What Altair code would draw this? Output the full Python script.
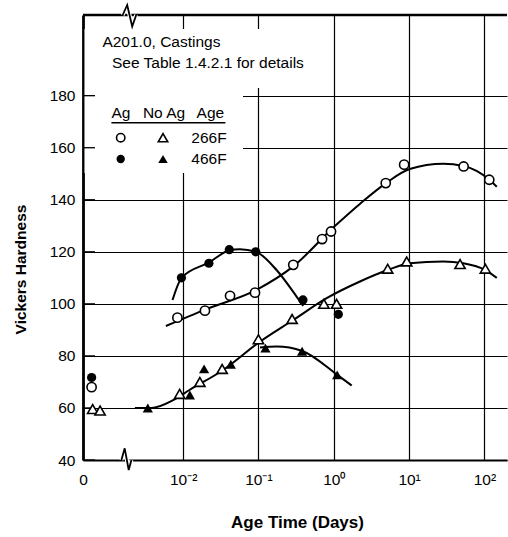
import altair as alt
import pandas as pd

FONT = "Liberation Sans, Arial, sans-serif"

# ---------------- data ----------------
# Age time in days; points at time 0 are drawn just right of the axis break
ag266_days = [0.00061, 0.0084, 0.0195, 0.042, 0.090, 0.29, 0.70, 0.92, 4.9, 8.6, 53, 116]
ag266_hv = [68, 94.7, 97.4, 103.1, 104.3, 115, 124.9, 127.8, 146.4, 153.5, 152.8, 147.7]

ag466_days = [0.00061, 0.0095, 0.022, 0.041, 0.092, 0.39, 1.15]
ag466_hv = [71.7, 110, 115.6, 120.8, 120, 101.5, 96]

noag266_days = [0.00063, 0.00079, 0.0090, 0.0167, 0.033, 0.10, 0.28, 0.74, 1.09, 5.2, 9.3, 47.5, 103]
noag266_hv = [59.6, 59.0, 65.4, 70, 75, 86.4, 94.2, 100, 100, 113.5, 116.3, 115.3, 113.5]

noag466_days = [0.0034, 0.0123, 0.019, 0.043, 0.124, 0.38, 1.11]
noag466_hv = [60, 65, 75, 76.8, 83, 81.8, 72.7]

# hand-drawn trend curves
ag266_fit_days = [0.0059, 0.0204, 0.0944, 0.29, 1.0, 2.24, 4.94, 10.2, 28.5, 52.5, 116.4, 146]
ag266_fit_hv = [91.5, 98, 105.4, 114.4, 129.5, 138.5, 146.4, 151.8, 153.8, 153, 147.7, 145]

ag466_fit_days = [0.00724, 0.00955, 0.0221, 0.0408, 0.0568, 0.0944, 0.174, 0.321, 0.394]
ag466_fit_hv = [101.5, 110, 115.9, 120.5, 121, 119.9, 113, 102.8, 99.2]

noag266_fit_days = [0.00229, 0.0038, 0.00736, 0.0123, 0.034, 0.105, 0.29, 0.805, 2.23, 5.2, 10.2, 28.5, 52.5, 103, 146]
noag266_fit_hv = [60, 60, 63, 67, 74.6, 85.5, 93.8, 102.2, 108.6, 113, 115.6, 116.3, 115.6, 113, 110]

noag466_fit_days = [0.105, 0.174, 0.382, 1.114, 1.73]
noag466_fit_hv = [83.2, 83.6, 81.9, 72.7, 68.6]

# axes
x_ticks = [10 ** -3.329, 0.01, 0.1, 1, 10, 100]
y_ticks = [40, 60, 80, 100, 120, 140, 160, 180]
x_domain = [10 ** -3.329, 10 ** 2.30]
y_domain = [40, 211]

W, H = 424, 445

xs = alt.Scale(type="log", domain=x_domain, nice=False)
ys = alt.Scale(domain=y_domain, nice=False, zero=False)

label_expr = ("datum.value < 0.001 ? '0' : datum.value < 0.05 ? '10\u207b\u00b2' : "
              "datum.value < 0.5 ? '10\u207b\u00b9' : datum.value < 5 ? '10\u2070' : "
              "datum.value < 50 ? '10\u00b9' : '10\u00b2'")

x_axis = alt.Axis(values=x_ticks, labelExpr=label_expr, grid=True, ticks=False, labelFlush=False,
                  title="Age Time (Days)", titleX=214, titleY=62, titleBaseline="middle",
                  titleAlign="center", labelPadding=12, titleFontSize=17)
y_axis = alt.Axis(values=y_ticks, grid=True, ticks=False, title="Vickers Hardness",
                  titleX=-63, titleY=254, titleAngle=270, titleBaseline="middle",
                  titleAlign="center", labelPadding=8, titleFontSize=15.5)


def df(days, hv):
    return pd.DataFrame({"days": days, "hv": hv})


def curve(days, hv):
    return alt.Chart(df(days, hv)).mark_line(color="black", strokeWidth=2, interpolate="monotone").encode(
        x=alt.X("days:Q", scale=xs, axis=x_axis),
        y=alt.Y("hv:Q", scale=ys, axis=y_axis),
    )


def pts(days, hv, shape, filled, size):
    if filled:
        m = alt.Chart(df(days, hv)).mark_point(shape=shape, filled=True, color="black", size=size, opacity=1)
    else:
        m = alt.Chart(df(days, hv)).mark_point(shape=shape, filled=True, fill="white", stroke="black",
                                               strokeWidth=1.6, size=size, opacity=1)
    return m.encode(x=alt.X("days:Q", scale=xs), y=alt.Y("hv:Q", scale=ys))


# white masks behind the annotation text (they hide the grid, as in the original)
masks = alt.Chart(pd.DataFrame({"x": [1.5, 1.5], "x2": [222, 160], "y": [14, 73], "y2": [73, 158]})).mark_rect(
    fill="white").encode(x=alt.X("x:Q", scale=None), x2="x2", y=alt.Y("y:Q", scale=None), y2="y2")

# inner ticks on the left axis
yticks_rule = alt.Chart(pd.DataFrame({"hv": y_ticks})).mark_rule(color="black", strokeWidth=1.3).encode(
    y=alt.Y("hv:Q", scale=ys), x=alt.value(0), x2=alt.value(12))

# frame top
top_rule = alt.Chart(pd.DataFrame({"a": [0]})).mark_rule(color="black", strokeWidth=2.5).encode(
    x=alt.value(0), x2=alt.value(W), y=alt.value(0))

# axis-break zigzags
brk = pd.DataFrame({
    "px": [38.4, 41.7, 45.7, 48.4, 39.7, 44.2, 49.2, 53.2],
    "py": [445, 433.3, 455, 445, 0, -10, 11.5, 0],
    "g": ["b"] * 4 + ["t"] * 4,
    "o": [0, 1, 2, 3, 0, 1, 2, 3],
})
brk_white = alt.Chart(brk).mark_line(color="white", strokeWidth=4).encode(
    x=alt.X("px:Q", scale=None), y=alt.Y("py:Q", scale=None), detail="g:N", order="o:Q")
brk_line = alt.Chart(brk).mark_line(color="black", strokeWidth=1.8).encode(
    x=alt.X("px:Q", scale=None), y=alt.Y("py:Q", scale=None), detail="g:N", order="o:Q")

# annotation text
txt = pd.DataFrame({
    "t": ["A201.0, Castings", "See Table 1.4.2.1 for details"],
    "px": [19.4, 29], "py": [27.3, 48.3]})
ann = alt.Chart(txt).mark_text(align="left", baseline="middle", font=FONT, fontSize=15.5, color="black").encode(
    x=alt.X("px:Q", scale=None), y=alt.Y("py:Q", scale=None), text="t:N")

leg_txt = pd.DataFrame({
    "t": ["Ag", "No Ag", "Age", "266F", "466F"],
    "px": [37.9, 81, 127.4, 126, 126], "py": [97.7, 97.7, 97.7, 122.7, 144]})
leg = alt.Chart(leg_txt).mark_text(align="center", baseline="middle", font=FONT, fontSize=15.5,
                                   color="black").encode(
    x=alt.X("px:Q", scale=None), y=alt.Y("py:Q", scale=None), text="t:N")
underline = alt.Chart(pd.DataFrame({"a": [0]})).mark_rule(color="black", strokeWidth=1.5).encode(
    x=alt.value(28.4), x2=alt.value(142.4), y=alt.value(107.7))

leg_sym = pd.DataFrame({
    "px": [37.7, 80, 37.7, 80], "py": [122.7, 122.7, 144, 144],
    "k": ["oc", "ot", "fc", "ft"]})


def leg_mark(k, shape, filled, size):
    d = leg_sym[leg_sym.k == k]
    if filled:
        m = alt.Chart(d).mark_point(shape=shape, filled=True, color="black", size=size, opacity=1)
    else:
        m = alt.Chart(d).mark_point(shape=shape, filled=True, fill="white", stroke="black", strokeWidth=1.6,
                                    size=size, opacity=1)
    return m.encode(x=alt.X("px:Q", scale=None), y=alt.Y("py:Q", scale=None))


chart = alt.layer(
    curve(ag266_fit_days, ag266_fit_hv),
    curve(ag466_fit_days, ag466_fit_hv),
    curve(noag266_fit_days, noag266_fit_hv),
    curve(noag466_fit_days, noag466_fit_hv),
    masks,
    yticks_rule,
    pts(ag266_days, ag266_hv, "circle", False, 85),
    pts(ag466_days, ag466_hv, "circle", True, 85),
    pts(noag266_days, noag266_hv, "triangle-up", False, 105),
    pts(noag466_days, noag466_hv, "triangle-up", True, 105),
    top_rule,
    brk_white,
    brk_line,
    ann,
    leg,
    underline,
    leg_mark("oc", "circle", False, 70),
    leg_mark("ot", "triangle-up", False, 90),
    leg_mark("fc", "circle", True, 70),
    leg_mark("ft", "triangle-up", True, 90),
).properties(
    width=W, height=H,
    autosize=alt.AutoSizeParams(type="none"),
    padding={"left": 83, "top": 15, "right": 1, "bottom": 77},
).configure_view(stroke=None).configure_axis(
    domainColor="black", gridColor="black", gridWidth=1.2, gridOpacity=1,
    labelFont=FONT, labelFontSize=15.5, labelColor="black",
    titleFont=FONT, titleFontWeight="bold", titleColor="black",
).configure_axisX(domainWidth=2.2).configure_axisY(domainWidth=2.8)

chart.save("out.html", embed_options={"renderer": "svg", "actions": False})
